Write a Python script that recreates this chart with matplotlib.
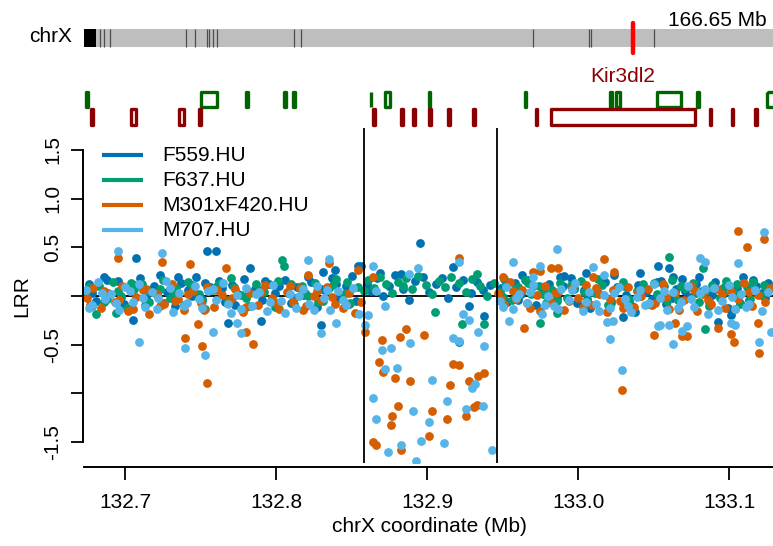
import numpy as np
import matplotlib
matplotlib.use('Agg')
from matplotlib import pyplot as plt
from matplotlib.patches import Rectangle

plt.rcParams['font.family'] = ['Liberation Sans', 'DejaVu Sans']

# LRR per sample (x in Mb, y = log R ratio)
f559_x = [132.676, 132.681, 132.686, 132.690, 132.695, 132.699, 132.703, 132.710, 132.714, 132.719,
          132.723, 132.728, 132.733, 132.737, 132.742, 132.747, 132.751, 132.756, 132.762, 132.766,
          132.771, 132.775, 132.779, 132.786, 132.791, 132.795, 132.799, 132.806, 132.810, 132.814,
          132.818, 132.823, 132.827, 132.833, 132.837, 132.842, 132.846, 132.850, 132.853,
          132.860, 132.863, 132.867, 132.871, 132.875, 132.879, 132.884, 132.888, 132.892, 132.897,
          132.901, 132.906, 132.910, 132.914, 132.919, 132.924, 132.929, 132.933, 132.937, 132.942,
          132.949, 132.953, 132.958, 132.962, 132.967, 132.972, 132.977, 132.981, 132.986, 132.990,
          132.995, 132.999, 133.004, 133.008, 133.013, 133.018, 133.022, 133.026, 133.032, 133.036,
          133.040, 133.045, 133.049, 133.055, 133.058, 133.065, 133.069, 133.074, 133.078, 133.082,
          133.087, 133.091, 133.096, 133.099, 133.105, 133.109, 133.113, 133.118, 133.122, 133.126,
          132.678, 132.688, 132.697, 132.706, 132.716, 132.726, 132.735, 132.744, 132.753, 132.764,
          132.773, 132.782, 132.793, 132.802, 132.812, 132.821, 132.830, 132.840, 132.848, 132.951,
          132.960, 132.970, 132.979, 132.988, 132.997, 133.006, 133.016, 133.024, 133.034, 133.043,
          133.052, 133.062, 133.071, 133.080, 133.089, 133.098, 133.107, 133.116, 133.124, 132.869,
          132.707, 132.705, 132.754, 132.760, 132.783, 132.768, 132.790, 132.895, 132.831, 132.839,
          132.854, 132.856, 132.883, 132.830, 132.917, 132.963, 132.928, 132.938, 132.921, 133.005,
          132.991, 133.041, 133.053, 133.030, 133.038, 133.060, 133.063, 133.093, 133.101]
f559_y = [0.12, -0.05, 0.20, 0.02, 0.15, -0.08, 0.08, 0.18, -0.02, 0.10,
          0.22, 0.04, -0.10, 0.13, 0.06, 0.19, -0.03, 0.09, 0.15, -0.06,
          0.11, 0.02, 0.17, 0.07, -0.04, 0.12, 0.03, 0.16, -0.07, 0.09,
          0.01, 0.14, -0.11, 0.05, 0.18, -0.02, 0.10, 0.21, -0.05,
          0.12, 0.05, 0.18, 0.00, 0.10, 0.22, 0.07, -0.04, 0.15, 0.20,
          0.04, 0.12, 0.18, -0.02, 0.09, 0.16, 0.03, 0.14, 0.06, 0.11,
          0.08, -0.06, 0.13, 0.02, 0.16, -0.09, 0.05, 0.12, -0.02, 0.10,
          0.18, -0.07, 0.06, -0.12, 0.03, 0.14, -0.05, 0.09, 0.01, -0.10,
          0.11, 0.04, -0.03, 0.15, -0.08, 0.07, 0.17, -0.01, 0.12, 0.05,
          -0.06, 0.14, 0.02, -0.12, 0.08, 0.19, -0.04, 0.10, 0.03, 0.13,
          0.03, 0.16, -0.01, 0.11, 0.06, -0.07, 0.20, 0.00, 0.13, 0.08,
          -0.09, 0.04, 0.15, 0.10, -0.02, 0.19, 0.07, 0.12, -0.08, 0.17,
          -0.04, 0.10, 0.01, 0.19, 0.07, -0.03, 0.12, 0.22, -0.06, 0.09,
          0.14, -0.02, 0.05, 0.20, 0.01, 0.11, -0.07, 0.16, -0.02, 0.24,
          0.39, -0.25, 0.46, 0.46, 0.29, -0.28, -0.26, 0.54, 0.25, 0.27,
          0.31, 0.31, 0.23, -0.30, 0.30, 0.22, -0.10, -0.21, -0.47, 0.24,
          0.21, 0.24, 0.31, -0.22, -0.16, 0.29, 0.20, -0.27, -0.20]

f637_x = [132.674, 132.678, 132.683, 132.688, 132.692, 132.697, 132.701, 132.706, 132.711, 132.716,
          132.720, 132.725, 132.730, 132.734, 132.739, 132.744, 132.749, 132.753, 132.758, 132.763,
          132.768, 132.772, 132.777, 132.782, 132.787, 132.792, 132.797, 132.801, 132.808, 132.812,
          132.817, 132.821, 132.826, 132.831, 132.835, 132.840, 132.845, 132.849, 132.854,
          132.858, 132.861, 132.865, 132.869, 132.873, 132.877, 132.881, 132.886, 132.890, 132.894,
          132.899, 132.903, 132.908, 132.912, 132.916, 132.921, 132.926, 132.930, 132.935, 132.940,
          132.944,
          132.948, 132.952, 132.956, 132.960, 132.965, 132.969, 132.974, 132.979, 132.983, 132.988,
          132.993, 132.997, 133.002, 133.006, 133.011, 133.016, 133.020, 133.025, 133.030, 133.034,
          133.039, 133.043, 133.047, 133.052, 133.057, 133.062, 133.066, 133.071, 133.076, 133.080,
          133.085, 133.089, 133.094, 133.098, 133.103, 133.107, 133.112, 133.116, 133.121, 133.125,
          132.676, 132.686, 132.695, 132.704, 132.713, 132.723, 132.732, 132.742, 132.751, 132.761,
          132.770, 132.780, 132.790, 132.799, 132.810, 132.819, 132.828, 132.838, 132.847, 132.950,
          132.958, 132.967, 132.977, 132.986, 132.995, 133.004, 133.013, 133.022, 133.032, 133.041,
          133.050, 133.059, 133.068, 133.078, 133.087, 133.096, 133.105, 133.114, 133.123, 132.884,
          132.804, 132.805, 132.933, 132.905, 132.923, 132.938, 132.975, 132.986, 133.060, 133.083,
          133.084, 132.681, 132.694]
f637_y = [0.05, -0.10, 0.10, -0.03, 0.14, 0.00, -0.12, 0.07, 0.12, -0.06,
          0.03, 0.16, -0.02, 0.08, -0.09, 0.11, 0.02, -0.13, 0.06, 0.13,
          -0.04, 0.09, 0.01, -0.10, 0.12, 0.04, -0.05, 0.15, 0.03, -0.08,
          0.10, 0.00, 0.13, -0.05, 0.08, 0.17, 0.02, -0.07, 0.09,
          0.05, 0.16, 0.08, 0.20, 0.12, 0.03, 0.14, 0.18, 0.07, 0.21,
          0.11, 0.02, 0.15, 0.09, 0.19, 0.13, 0.04, 0.17, 0.10, 0.00,
          0.13,
          0.04, 0.12, -0.04, 0.09, 0.16, 0.02, 0.10, -0.07, 0.06, 0.13,
          -0.02, 0.08, 0.15, -0.05, 0.03, 0.11, -0.09, 0.07, 0.14, -0.03,
          0.05, 0.12, -0.08, 0.02, 0.10, 0.16, -0.04, 0.08, 0.13, -0.06,
          0.06, 0.11, -0.02, 0.15, 0.03, -0.08, 0.09, 0.14, 0.01, 0.07,
          0.09, -0.06, 0.05, 0.13, -0.09, 0.07, 0.01, 0.14, -0.05, 0.10,
          0.18, -0.02, 0.06, -0.11, 0.12, 0.03, -0.06, 0.11, 0.14, -0.01,
          0.07, 0.13, 0.02, -0.05, 0.11, 0.04, 0.17, -0.07, 0.09, 0.00,
          0.13, -0.05, 0.10, 0.03, -0.10, 0.08, 0.12, -0.03, 0.11, 0.10,
          0.37, 0.31, 0.23, -0.16, -0.29, -0.29, -0.28, -0.17, 0.40, 0.29,
          -0.34, -0.18, -0.17]

m301_x = [132.675, 132.679, 132.684, 132.689, 132.693, 132.698, 132.702, 132.707, 132.712, 132.716,
          132.721, 132.726, 132.731, 132.735, 132.739, 132.745, 132.750, 132.754, 132.759, 132.764,
          132.769, 132.773, 132.778, 132.783, 132.788, 132.793, 132.797, 132.802, 132.807, 132.811,
          132.816, 132.820, 132.825, 132.830, 132.834, 132.839, 132.844, 132.848, 132.852, 132.856,
          132.947, 132.951, 132.955, 132.959, 132.963, 132.968, 132.973, 132.978, 132.982, 132.987,
          132.991, 132.996, 133.000, 133.005, 133.009, 133.014, 133.019, 133.023, 133.028, 133.033,
          133.037, 133.042, 133.046, 133.051, 133.056, 133.060, 133.064, 133.070, 133.075, 133.079,
          133.083, 133.088, 133.092, 133.097, 133.101, 133.106, 133.110, 133.115, 133.119, 133.124,
          133.127,
          132.677, 132.686, 132.696, 132.705, 132.714, 132.723, 132.733, 132.742, 132.752, 132.761,
          132.771, 132.780, 132.790, 132.800, 132.809, 132.818, 132.827, 132.837, 132.846, 132.949,
          132.957, 132.966, 132.975, 132.985, 132.994, 133.003, 133.012, 133.021, 133.030, 133.040,
          133.049, 133.058, 133.067, 133.077, 133.086, 133.095, 133.104, 133.113,
          132.859, 132.870, 132.882, 132.886, 132.898, 132.868, 132.871, 132.879, 132.889, 132.915,
          132.917, 132.928, 132.934, 132.938, 132.881, 132.877, 132.876, 132.903, 132.913, 132.926,
          132.931, 132.933, 132.864, 132.866, 132.883, 132.901, 132.921,
          132.695, 132.7245, 132.743, 132.740, 132.748, 132.751, 132.754, 132.767, 132.821, 132.785,
          132.780, 132.835, 132.854, 132.864, 132.921, 132.950, 132.970, 132.975, 132.964, 133.017,
          133.010, 133.024, 132.982, 132.987, 133.029, 133.050, 133.106, 133.123, 133.112, 133.120,
          133.103, 133.101, 133.093, 133.069, 133.072, 133.064, 133.119]
m301_y = [-0.02, 0.08, -0.12, 0.03, -0.06, 0.10, -0.15, -0.01, 0.06, -0.18,
          0.02, -0.08, 0.12, -0.03, -0.14, 0.05, -0.07, 0.09, -0.11, 0.01,
          -0.05, 0.07, -0.16, 0.03, -0.09, 0.11, -0.02, -0.13, 0.04, -0.06,
          0.08, -0.10, 0.00, -0.04, 0.09, -0.08, -0.12, 0.03, -0.17, -0.06,
          0.03, -0.08, 0.14, -0.03, 0.06, -0.12, 0.01, 0.10, -0.06, 0.04,
          -0.14, 0.08, -0.02, 0.11, -0.09, 0.02, -0.16, 0.06, -0.05, 0.09,
          -0.11, 0.00, 0.07, -0.07, 0.12, -0.13, 0.03, -0.04, 0.10, -0.15,
          0.02, -0.08, 0.07, -0.12, 0.05, -0.03, 0.13, -0.10, 0.01, -0.06,
          0.08,
          -0.09, 0.05, -0.04, -0.13, 0.07, -0.10, -0.05, 0.02, -0.14, 0.06,
          -0.02, -0.11, 0.04, -0.07, 0.10, -0.14, 0.05, -0.01, -0.09, -0.03,
          0.05, -0.07, -0.15, 0.03, -0.05, -0.11, 0.08, -0.03, -0.12, 0.04,
          -0.09, -0.01, -0.14, 0.06, -0.04, 0.02, -0.13, 0.04,
          -0.37, -0.45, -0.42, -0.34, -0.40, -0.68, -0.78, -0.84, -0.87, -0.91,
          -0.70, -0.87, -0.82, -0.79, -1.13, -1.23, -1.33, -1.18, -1.26, -1.23,
          -1.14, -1.12, -1.50, -1.53, -1.58, -1.44, -0.71,
          0.39, 0.35, 0.33, -0.43, -0.29, -0.51, -0.89, 0.29, 0.22, -0.49,
          -0.37, 0.34, 0.27, 0.20, 0.39, 0.20, 0.25, 0.26, -0.33, 0.38,
          0.20, 0.25, 0.29, 0.29, -0.97, -0.40, 0.67, 0.59, 0.50, -0.59,
          -0.47, -0.39, -0.33, -0.41, -0.41, -0.28, -0.28]

m707_x = [132.674, 132.678, 132.682, 132.687, 132.691, 132.696, 132.700, 132.705, 132.709, 132.713,
          132.718, 132.722, 132.727, 132.732, 132.736, 132.741, 132.746, 132.751, 132.755, 132.760,
          132.765, 132.770, 132.774, 132.780, 132.784, 132.789, 132.794, 132.798, 132.803, 132.809,
          132.813, 132.818, 132.822, 132.827, 132.832, 132.836, 132.841, 132.846, 132.851, 132.855,
          132.861, 132.866, 132.872,
          132.948, 132.952, 132.957, 132.961, 132.966, 132.970, 132.976, 132.980, 132.984, 132.989,
          132.994, 132.998, 133.003, 133.007, 133.012, 133.017, 133.021, 133.027, 133.031, 133.035,
          133.041, 133.044, 133.050, 133.054, 133.059, 133.063, 133.068, 133.073, 133.077, 133.081,
          133.086, 133.090, 133.095, 133.100, 133.104, 133.108, 133.113, 133.117, 133.122, 133.126,
          132.676, 132.685, 132.694, 132.703, 132.712, 132.721, 132.730, 132.739, 132.749, 132.758,
          132.768, 132.777, 132.787, 132.796, 132.806, 132.815, 132.825, 132.834, 132.844, 132.950,
          132.959, 132.968, 132.978, 132.987, 132.996, 133.005, 133.014, 133.024, 133.033, 133.039,
          133.047, 133.057, 133.066, 133.075, 133.084, 133.093, 133.102, 133.111,
          132.870, 132.876, 132.889, 132.917, 132.921, 132.938, 132.872, 132.880, 132.903, 132.924,
          132.928, 132.934, 132.859, 132.864, 132.913, 132.891, 132.926, 132.937, 132.930, 132.932,
          132.866, 132.901, 132.874, 132.883, 132.896, 132.911, 132.943, 132.893,
          132.695, 132.7245, 132.709, 132.740, 132.758, 132.753, 132.777, 132.774, 132.821, 132.835,
          132.864, 132.894, 132.888, 132.830, 132.840, 132.921, 132.957, 132.975, 132.970, 132.954,
          132.986, 133.010, 133.017, 133.021, 133.029, 133.053, 133.019, 133.023, 133.081, 133.084,
          133.106, 133.123, 133.063, 133.120, 133.101, 133.104, 133.069, 133.072, 133.060, 133.054,
          133.128]
m707_y = [0.06, -0.09, 0.14, -0.03, 0.02, -0.14, 0.09, -0.06, 0.12, -0.11,
          0.04, -0.02, 0.15, -0.16, 0.03, -0.07, 0.10, -0.12, 0.05, -0.04,
          0.13, -0.17, 0.01, 0.08, -0.10, 0.04, -0.15, 0.11, -0.05, 0.02,
          -0.12, 0.07, -0.08, 0.10, -0.02, -0.14, 0.05, -0.09, 0.08, -0.18,
          -0.20, 0.05, -0.10,
          -0.05, 0.09, -0.13, 0.02, -0.07, 0.11, -0.18, 0.00, -0.10, 0.07,
          -0.04, 0.13, -0.15, 0.04, -0.08, 0.01, -0.12, 0.09, -0.03, -0.16,
          0.06, -0.09, 0.12, -0.02, -0.14, 0.04, -0.06, 0.10, -0.11, 0.03,
          -0.18, 0.08, -0.05, 0.11, -0.13, 0.02, -0.08, 0.06, -0.15, 0.04,
          -0.12, 0.03, -0.07, 0.05, -0.02, -0.13, 0.08, -0.10, -0.03, 0.07,
          -0.08, -0.13, 0.02, -0.06, -0.17, 0.00, -0.14, 0.06, -0.04, -0.11,
          -0.02, 0.04, -0.09, -0.13, 0.06, -0.06, -0.15, 0.03, -0.10, -0.01,
          -0.07, 0.05, -0.12, -0.03, 0.07, -0.14, -0.01, -0.11,
          -0.55, -0.53, -0.48, -0.43, -0.46, -0.51, -0.75, -0.74, -0.86, -0.18,
          -0.25, -0.37, -0.30, -1.05, -1.08, -1.18, -1.16, -1.13, -0.95, -0.90,
          -1.26, -1.29, -1.60, -1.53, -1.49, -1.51, -1.58, -1.70,
          0.46, 0.44, -0.47, -0.53, -0.37, -0.61, -0.38, -0.28, 0.37, 0.38,
          0.31, 0.29, 0.23, -0.38, -0.28, 0.35, 0.35, 0.31, 0.20, -0.26,
          0.48, 0.30, 0.22, -0.44, -0.76, -0.31, -0.27, -0.26, 0.39, 0.35,
          0.34, 0.66, -0.49, -0.47, -0.28, -0.30, -0.36, -0.31, -0.30, -0.30,
          -0.37]

samples = ['F559.HU', 'F637.HU', 'M301xF420.HU', 'M707.HU']
colors = ['#0072B2', '#009E73', '#D55E00', '#56B4E9']

# deleted region boundaries (Mb)
region = [132.858, 132.946]

# genes on the two strands (Mb)
green_start = [132.6738, 132.7500, 132.7798, 132.8050, 132.8109, 132.8626, 132.8719,
               132.9010, 132.9646, 133.0209, 133.0248, 133.0520, 133.0785, 133.1248]
green_end = [132.6752, 132.7606, 132.7811, 132.8063, 132.8123, 132.8632, 132.8752,
             132.9017, 132.9652, 133.0222, 133.0275, 133.0679, 133.0798, 133.1470]
red_start = [132.6772, 132.7036, 132.7354, 132.7487, 132.8639, 132.8825, 132.8904, 132.9010,
             132.9139, 132.9301, 132.9722, 132.9824, 133.0871, 133.1017, 133.1169]
red_end = [132.6785, 132.7070, 132.7387, 132.7500, 132.8652, 132.8838, 132.8917, 132.9023,
           132.9152, 132.9315, 132.9728, 133.0772, 133.0878, 133.1023, 133.1182]
gene_label = 'Kir3dl2'
gene_label_idx = 11

# chromosome ideogram (Mb)
chr_len = 166.65
cen_end = 2.9
band_lines = [3.87, 4.84, 6.29, 24.67, 26.85, 29.75, 30.23, 31.20, 32.17,
              50.79, 52.49, 108.60, 122.14, 122.63, 137.87]
marker_pos = 132.9

W, H = 773, 546
FS = 15


def px_box(x0, y0, x1, y1):
	"""axes rect from pixel box (top-left origin)"""
	return [x0 / W, 1 - y1 / H, (x1 - x0) / W, (y1 - y0) / H]


fig = plt.figure(figsize=(W / 100, H / 100), dpi=100)

# main LRR panel
ax = fig.add_axes(px_box(84, 128, 773, 463))
xlim = (132.6728, 133.1291)
ax.set_xlim(*xlim)
ax.set_ylim(-1.716, 1.726)
ax.axhline(0, color='black', lw=1.3, zorder=1)
for xs, ys, c in zip([f559_x, f637_x, m301_x, m707_x], [f559_y, f637_y, m301_y, m707_y], colors):
	ax.scatter(xs, ys, s=40, color=c, linewidths=0, zorder=2)
for b in region:
	ax.axvline(b, color='black', lw=1.3, zorder=3)

for s in ['top', 'right']:
	ax.spines[s].set_visible(False)
ax.spines['left'].set_position(('outward', 1))
ax.spines['left'].set_bounds(-1.5, 1.5)
ax.spines['bottom'].set_position(('outward', 3))
ax.spines['bottom'].set_bounds(*xlim)
for s in ['left', 'bottom']:
	ax.spines[s].set_linewidth(1.4)

ax.set_yticks(np.arange(-1.5, 1.51, 0.5))
ax.set_yticklabels(['-1.5', '', '-0.5', '', '0.5', '1.0', '1.5'], rotation=90, va='center')
ax.set_xticks([132.7, 132.8, 132.9, 133.0, 133.1])
ax.set_xticklabels(['132.7', '132.8', '132.9', '133.0', '133.1'])
ax.tick_params(axis='y', length=8.5, width=1.3, pad=6, labelsize=FS)
ax.tick_params(axis='x', length=9.5, width=1.3, pad=9, labelsize=FS)
ax.set_xlabel('chrX coordinate (Mb)', fontsize=FS, va='center')
ax.xaxis.set_label_coords(0.502, -0.191)
ax.set_ylabel('LRR', fontsize=FS, va='center')
ax.yaxis.set_label_coords(-0.09, 0.4985)

# legend
for i, (lab, c) in enumerate(zip(samples, colors)):
	ly = 0.919 - i * 0.0745
	ax.plot([0.026, 0.0856], [ly, ly], color=c, lw=3, transform=ax.transAxes, solid_capstyle='butt', zorder=4)
	ax.text(0.113, ly, lab, fontsize=FS, va='center', ha='left', transform=ax.transAxes, zorder=4)

# gene track
gax = fig.add_axes(px_box(84, 60, 773, 128))
gax.set_xlim(*xlim)
gax.set_ylim(128, 60)
gax.axis('off')
for s0, e0 in zip(green_start, green_end):
	gax.add_patch(Rectangle((s0, 91.5), e0 - s0, 15, fill=False, edgecolor='#006400', lw=2.4, joinstyle='round'))
for s0, e0 in zip(red_start, red_end):
	gax.add_patch(Rectangle((s0, 108.5), e0 - s0, 16, fill=False, edgecolor='#8B0000', lw=2.4, joinstyle='round'))
gx = (red_start[gene_label_idx] + red_end[gene_label_idx]) / 2
gax.text(gx, 76, gene_label, color='#8B0000', fontsize=FS, ha='center', va='center')

# ideogram
iax = fig.add_axes(px_box(84, 10, 773, 60))
iax.set_xlim(0, chr_len)
iax.set_ylim(60, 10)
iax.axis('off')
iax.add_patch(Rectangle((0, 29), chr_len, 18, facecolor='#BEBEBE', edgecolor='none'))
iax.add_patch(Rectangle((0, 29), cen_end, 18, facecolor='black', edgecolor='none'))
iax.vlines(band_lines, 29, 47, color='#4D4D4D', lw=0.9)
iax.plot([marker_pos, marker_pos], [23, 53], color='#FF0000', lw=3.2, solid_capstyle='round')
fig.text(72 / W, 1 - 37 / H, 'chrX', fontsize=FS, ha='right', va='center')
fig.text(767 / W, 1 - 20 / H, '%.2f Mb' % chr_len, fontsize=FS, ha='right', va='center')

fig.savefig('out.png', dpi=100)
